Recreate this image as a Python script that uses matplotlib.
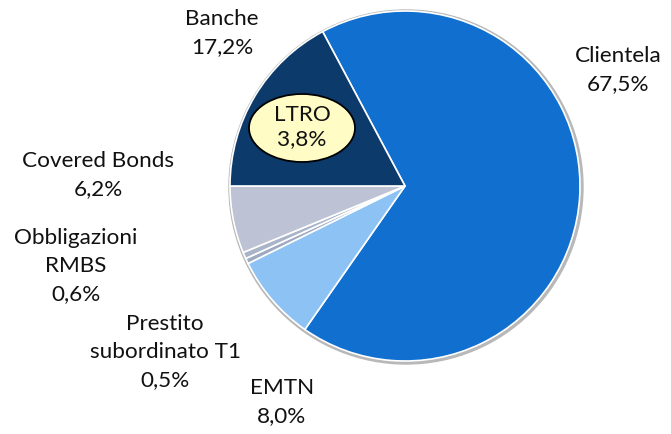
import matplotlib
matplotlib.use("Agg")
import matplotlib.pyplot as plt
from matplotlib.patches import Ellipse, Circle

# data
labels = ["Clientela", "EMTN", "Prestito\nsubordinato T1", "Obbligazioni\nRMBS",
          "Covered Bonds", "Banche"]
values = [67.5, 8.0, 0.5, 0.6, 6.2, 17.2]
colors = ["#1170CF", "#8CC2F4", "#9DAAC2", "#A9B4C8", "#BDC3D4", "#0B3A6B"]
ltro_label = "LTRO"
ltro_value = 3.8

# label positions in pixels (x, y from top)
label_pos = [(618, 70), (282, 402), (165, 352), (76, 266), (98, 175), (222, 33)]

W, H = 671, 434
fig = plt.figure(figsize=(W / 100, H / 100), dpi=100)
ax = fig.add_axes([0, 0, 1, 1])

cx, cy, r = 405, H - 186, 175
# Banche ends exactly at the left horizontal
start = 180 - 360 * values[-1] / 100

ax.add_patch(Circle((cx + 1, cy - 1), r + 2, color="#B8B8B8", zorder=0))
ax.pie(values, colors=colors, startangle=start, counterclock=False,
       center=(cx, cy), radius=r, frame=True,
       wedgeprops=dict(edgecolor="white", linewidth=1.2))
ax.set_xlim(0, W)
ax.set_ylim(0, H)
ax.set_aspect("equal")
ax.axis("off")

font = "Lato"
fs = 16.2
for lab, v, (x, y) in zip(labels, values, label_pos):
    txt = lab + "\n" + f"{v:.1f}".replace(".", ",") + "%"
    ax.text(x, H - y, txt, ha="center", va="center", fontsize=fs,
            family=font, linespacing=1.53, color="#111111")

ax.add_patch(Ellipse((302, H - 128), 106, 68, facecolor="#FFFCC6",
                     edgecolor="black", linewidth=1.3, zorder=5))
ax.text(302, H - 127, ltro_label + "\n" + f"{ltro_value:.1f}".replace(".", ",") + "%",
        ha="center", va="center", fontsize=fs, family=font, linespacing=1.3,
        color="#111111", zorder=6)

fig.savefig("out.png", dpi=100)
